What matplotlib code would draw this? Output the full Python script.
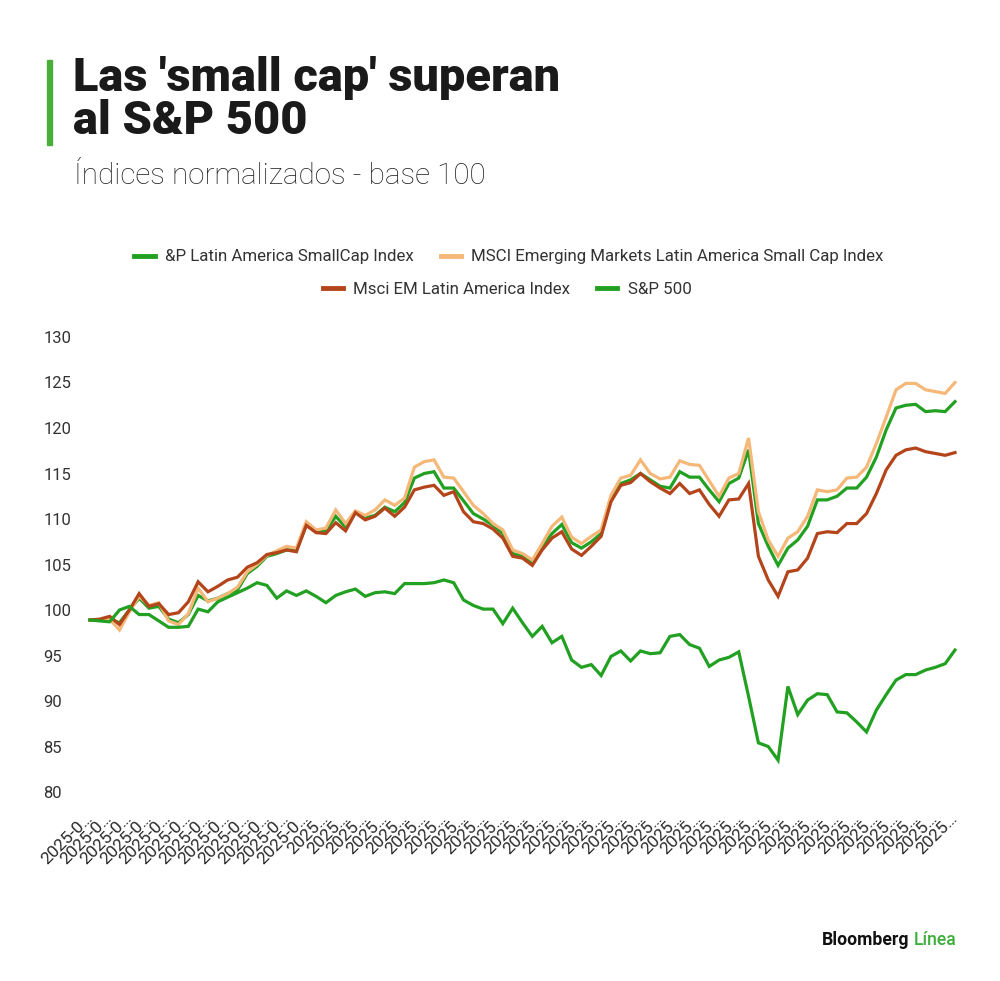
import matplotlib
matplotlib.use("Agg")
import matplotlib.pyplot as plt
from matplotlib.lines import Line2D

plt.rcParams['font.family'] = ['Roboto', 'DejaVu Sans']

# series values, base 100
sp_latam_small = [98.9, 98.9, 99.0, 98.6, 100.0, 101.3, 100.2, 100.4, 99.0, 98.6,
                  99.5, 101.6, 101.0, 101.3, 101.8, 102.2, 104.0, 104.8, 105.9, 106.2,
                  106.6, 106.6, 109.3, 108.7, 108.7, 110.3, 109.1, 110.7, 110.1, 110.4,
                  111.3, 110.8, 111.8, 114.5, 115.0, 115.2, 113.4, 113.4, 112.0, 110.6,
                  110.0, 109.3, 108.4, 106.2, 105.9, 105.1, 107.0, 108.4, 109.4, 107.4,
                  106.8, 107.5, 108.4, 112.1, 113.9, 114.3, 115.0, 114.3, 113.6, 113.4,
                  115.2, 114.6, 114.6, 113.2, 111.9, 113.9, 114.5, 117.6, 109.5, 107.0,
                  104.9, 106.8, 107.7, 109.2, 112.1, 112.1, 112.5, 113.4, 113.4, 114.6,
                  116.8, 119.8, 122.2, 122.5, 122.6, 121.8, 121.9, 121.8, 122.9]
msci_em_latam_small = [98.9, 98.9, 99.0, 97.8, 99.8, 101.5, 100.5, 100.8, 98.8, 98.4,
                       99.6, 102.4, 100.9, 101.3, 101.8, 102.5, 104.2, 105.0, 106.0, 106.5,
                       107.0, 106.8, 109.7, 108.8, 109.0, 111.0, 109.5, 110.9, 110.4, 111.0,
                       112.1, 111.5, 112.3, 115.7, 116.3, 116.5, 114.6, 114.5, 113.0, 111.5,
                       110.6, 109.5, 108.8, 106.6, 106.2, 105.5, 107.3, 109.2, 110.2, 108.0,
                       107.3, 108.1, 108.8, 112.6, 114.5, 114.8, 116.5, 115.0, 114.4, 114.6,
                       116.4, 116.0, 115.9, 114.2, 112.5, 114.5, 115.0, 118.9, 110.8, 107.7,
                       105.9, 107.9, 108.6, 110.3, 113.2, 113.0, 113.2, 114.5, 114.6, 115.7,
                       118.3, 121.2, 124.2, 124.9, 124.9, 124.2, 124.0, 123.8, 125.0]
msci_em_latam = [98.9, 99.0, 99.3, 98.4, 100.0, 101.8, 100.4, 100.7, 99.5, 99.7,
                 100.9, 103.1, 102.0, 102.6, 103.3, 103.6, 104.7, 105.2, 106.1, 106.3,
                 106.6, 106.4, 109.3, 108.5, 108.4, 109.6, 108.7, 110.7, 109.9, 110.3,
                 111.2, 110.3, 111.3, 113.2, 113.5, 113.7, 112.6, 113.0, 110.8, 109.7,
                 109.5, 108.9, 107.9, 105.9, 105.7, 104.9, 106.6, 107.9, 108.6, 106.7,
                 106.0, 107.0, 108.1, 111.9, 113.7, 114.0, 115.0, 114.1, 113.4, 112.8,
                 113.9, 112.8, 113.2, 111.6, 110.3, 112.1, 112.2, 113.9, 105.9, 103.3,
                 101.5, 104.2, 104.4, 105.7, 108.4, 108.6, 108.5, 109.5, 109.5, 110.6,
                 112.8, 115.4, 117.0, 117.6, 117.8, 117.4, 117.2, 117.0, 117.3]
sp500 = [98.9, 98.8, 98.7, 100.0, 100.4, 99.5, 99.5, 98.8, 98.1, 98.1,
         98.2, 100.1, 99.8, 100.9, 101.4, 101.9, 102.4, 103.0, 102.7, 101.3,
         102.1, 101.6, 102.1, 101.5, 100.8, 101.6, 102.0, 102.3, 101.5, 101.9,
         102.0, 101.8, 102.9, 102.9, 102.9, 103.0, 103.3, 103.0, 101.1, 100.5,
         100.1, 100.1, 98.5, 100.2, 98.6, 97.1, 98.2, 96.4, 97.1, 94.5,
         93.7, 94.0, 92.8, 94.9, 95.5, 94.4, 95.5, 95.2, 95.3, 97.1,
         97.3, 96.2, 95.8, 93.8, 94.5, 94.8, 95.4, 90.5, 85.4, 85.0,
         83.5, 91.6, 88.5, 90.1, 90.8, 90.7, 88.8, 88.7, 87.7, 86.6,
         89.0, 90.7, 92.3, 92.9, 92.9, 93.4, 93.7, 94.1, 95.6]

series_names = ["&P Latin America SmallCap Index",
                "MSCI Emerging Markets Latin America Small Cap Index",
                "Msci EM Latin America Index",
                "S&P 500"]
series_colors = ["#22a021", "#f5b879", "#b4441a", "#22a021"]

tick_labels = ["2025-0…"] * 12 + ["2025…"] * 33
y_ticks = [80, 85, 90, 95, 100, 105, 110, 115, 120, 125, 130]

W, H = 1000, 981
fig = plt.figure(figsize=(W / 100, H / 100), dpi=100)

# axes placed in pixel terms: index 0 at x=90, index 88 at x=955; 80 at y=792, 130 at y=337
step = (955 - 90) / 88
left = 90 - 0.5 * step
ax = fig.add_axes([left / W, 1 - 792 / H, 89 * step / W, (792 - 337) / H])
x = list(range(len(sp500)))
all_series = [sp_latam_small, msci_em_latam_small, msci_em_latam, sp500]
for vals, name, col in zip(all_series, series_names, series_colors):
    ax.plot(x, vals, color=col, lw=2.3, solid_joinstyle='miter', label=name)

ax.set_xlim(-0.5, 88.5)
ax.set_ylim(80, 130)
for s in ax.spines.values():
    s.set_visible(False)
ax.set_yticks(y_ticks)
ax.set_yticklabels([str(v) for v in y_ticks], fontsize=12, color="#333333", ha="left")
ax.tick_params(axis="y", length=0, pad=30)
ax.set_xticks(x[::2])
ax.set_xticklabels(tick_labels, rotation=45, ha="right", va="center",
                   rotation_mode="anchor", fontsize=12.5, color="#2a2a2a")
ax.tick_params(axis="x", length=0, pad=17)

# legend rows (flow layout, two centred rows)
handles = [Line2D([], [], color=c, lw=3.5) for c in series_colors]
leg1 = fig.legend(handles[:2], series_names[:2], loc="center", ncol=2,
                  bbox_to_anchor=(0.509, 1 - 257 / H), frameon=False, fontsize=12.2,
                  handlelength=1.2, handletextpad=0.6, columnspacing=1.6)
leg2 = fig.legend(handles[2:], series_names[2:], loc="center", ncol=2,
                  bbox_to_anchor=(0.507, 1 - 289 / H), frameon=False, fontsize=12.2,
                  handlelength=1.2, handletextpad=0.6, columnspacing=1.6)
for lg in (leg1, leg2):
    for t in lg.get_texts():
        t.set_color("#333333")

# title block
fig.patches.append(plt.Rectangle((47 / W, 1 - 145 / H), 5 / W, 85 / H,
                                 transform=fig.transFigure, color="#4cae3a"))
fig.text(73 / W, 1 - 56 / H, "Las 'small cap' superan\nal S&P 500", fontsize=33.8,
         fontweight="black", color="#1a1a1a", va="top", ha="left", linespacing=0.98)
fig.text(74 / W, 1 - 176 / H, "Índices normalizados - base 100", fontsize=21.3,
         fontweight="light", color="#222222", va="center", ha="left")

# footer logo
fig.text(822 / W, 1 - 940 / H, "Bloomberg", fontsize=12.7, fontweight="bold",
         color="#111111", va="center", ha="left")
fig.text(914 / W, 1 - 940 / H, "Línea", fontsize=12.7, fontweight="medium",
         color="#3cae3a", va="center", ha="left")

fig.savefig("out.png", dpi=100, facecolor="white")
